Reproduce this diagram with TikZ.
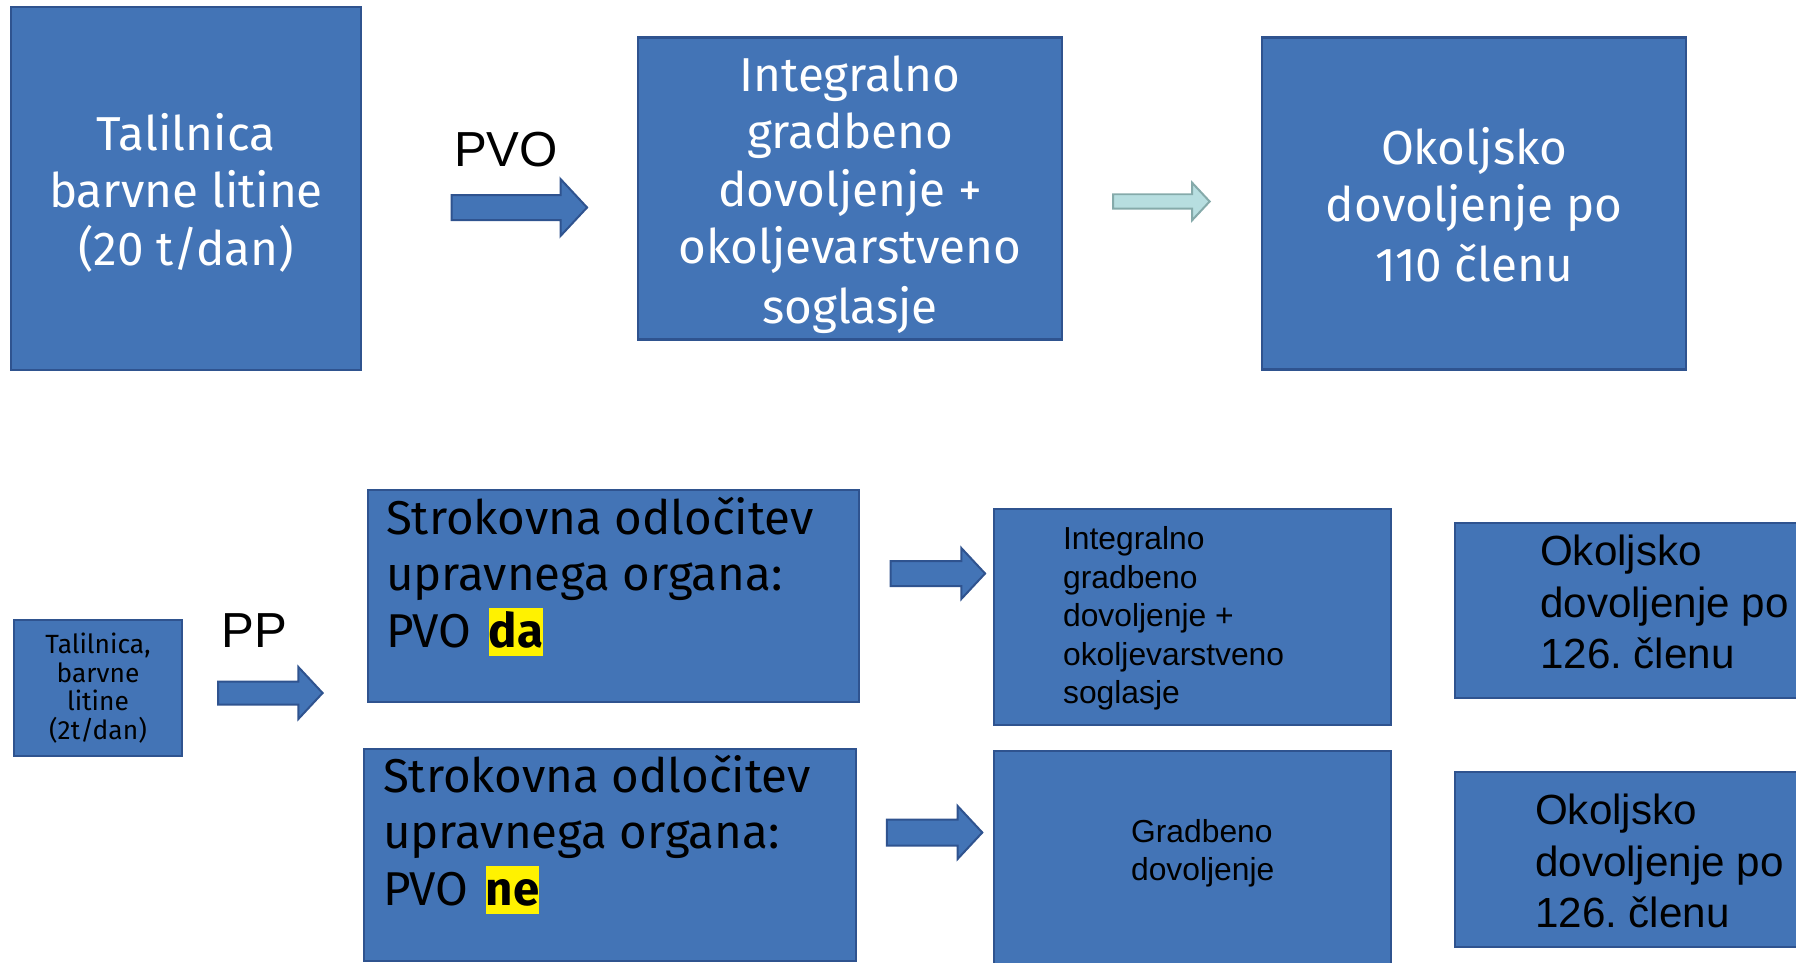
\documentclass[tikz,border=0pt]{standalone}
\usepackage{fontspec}
\setmainfont{Fira Sans}
\newfontfamily\arialfont{Liberation Sans}
\usetikzlibrary{positioning,shapes.arrows}
\frenchspacing

\definecolor{boxfill}{RGB}{67,116,182}
\definecolor{boxline}{RGB}{47,83,143}
\definecolor{paleFill}{RGB}{183,222,224}
\definecolor{paleLine}{RGB}{133,170,170}

\newcommand{\hl}[1]{{\setlength{\fboxsep}{0pt}\colorbox{yellow}{\rule[-0.18em]{0pt}{1.0em}\textbf{#1}}}}
\newcommand{\tstrut}{\rule[-5.35pt]{0pt}{32.7pt}}

\begin{document}
\begin{tikzpicture}[on grid,auto,
    box/.style={rectangle, draw=boxline, fill=boxfill, line width=0.05cm, inner sep=0pt},
    blockarrow/.style={single arrow, draw=boxline, fill=boxfill, line width=0.04cm, inner xsep=0pt, single arrow tip angle=94},
    palearrow/.style={single arrow, draw=paleLine, fill=paleFill, line width=0.04cm, inner xsep=0pt, single arrow tip angle=94},
    bigtext/.style={font=\fontsize{27.1}{32.7}\selectfont, align=center, text=white},
    smalltext/.style={font=\fontsize{15}{16.3}\selectfont, align=center},
    lefttext/.style={font=\fontsize{27}{32.1}\selectfont, align=left, inner sep=0pt},
    arialtext/.style={font=\arialfont\fontsize{18.1}{21.85}\selectfont, align=left, inner sep=0pt},
    arialbig/.style={font=\arialfont\fontsize{24}{29.3}\selectfont, align=left, inner sep=0pt},
    steplabel/.style={font=\arialfont\fontsize{28}{30}\selectfont, inner sep=0pt}
  ]
  \useasboundingbox (0,0) rectangle (35.92,-19.26);
  \clip (0,0) rectangle (35.92,-19.26);

  % top row
  \node[box, minimum width=7cm, minimum height=7.26cm, bigtext] (t1) at (3.72,-3.77) {\tstrut Talilnica\\barvne litine\\(20 t/dan)\tstrut};
  \node[blockarrow, minimum height=2.71cm, inner ysep=0.23cm, single arrow head extend=0.32cm] (a1) [right=6.55cm of t1, yshift=-0.38cm] {};
  \node[steplabel] (pvo) [above=1.15cm of a1, xshift=-0.15cm] {PVO};
  \node[box, minimum width=8.48cm, minimum height=6.04cm, bigtext] (t2) [right=13.28cm of t1] {\tstrut Integralno\\gradbeno\\dovoljenje +\\okoljevarstveno\\soglasje\tstrut};
  \node[palearrow, minimum height=1.93cm, inner ysep=0.125cm, single arrow head extend=0.23cm] (a2) [right=6.16cm of t2, yshift=-0.26cm] {};
  \node[box, minimum width=8.48cm, minimum height=6.64cm, bigtext] (t3) [right=12.48cm of t2, yshift=-0.3cm] {\tstrut Okoljsko\\dovoljenje po\\110 členu\tstrut};

  % bottom rows
  \node[box, minimum width=3.36cm, minimum height=2.72cm, smalltext] (b0) [below=9.99cm of t1, xshift=-1.76cm] {Talilnica,\\barvne\\litine\\(2t/dan)};
  \node[blockarrow, minimum height=2.09cm, inner ysep=0.21cm, single arrow head extend=0.29cm] (a3) [right=3.34cm of b0, yshift=-0.1cm] {};
  \node[steplabel] (pp) [above=1.24cm of a3, xshift=-0.22cm] {PP};

  \node[box, minimum width=9.82cm, minimum height=4.24cm] (bda) [right=10.31cm of b0, yshift=1.84cm] {};
  \node[lefttext, anchor=north west] (bda_txt) at ([xshift=0.38cm, yshift=-0.16cm]bda.north west) {Strokovna odločitev\\upravnega organa:\\PVO\hspace{2.5pt} \hl{da}};
  \node[box, minimum width=9.84cm, minimum height=4.24cm] (bne) [below=5.18cm of bda, xshift=-0.07cm] {};
  \node[lefttext, anchor=north west] (bne_txt) at ([xshift=0.4cm, yshift=-0.14cm]bne.north west) {Strokovna odločitev\\upravnega organa:\\PVO\hspace{2.5pt} \hl{ne}};

  \node[blockarrow, minimum height=1.89cm, inner ysep=0.23cm, single arrow head extend=0.26cm] (a4) [right=6.37cm of bda, yshift=0.45cm] {};
  \node[blockarrow, minimum height=1.91cm, inner ysep=0.24cm, single arrow head extend=0.27cm] (a5) [right=6.37cm of bne, yshift=0.45cm] {};

  \node[box, minimum width=7.94cm, minimum height=4.32cm] (bigd) [right=11.58cm of bda, yshift=-0.42cm] {};
  \node[arialtext, anchor=west] (bigd_txt) at ([xshift=1.4cm, yshift=-0.03cm]bigd.west) {Integralno\\gradbeno\\dovoljenje +\\okoljevarstveno\\soglasje};
  \node[box, minimum width=7.94cm, minimum height=4.78cm] (bgd) [right=11.65cm of bne, yshift=-0.31cm] {};
  \node[arialtext, anchor=west] (bgd_txt) at ([xshift=2.76cm, yshift=0.35cm]bgd.west) {Gradbeno\\dovoljenje};

  \node[box, minimum width=7.7cm, minimum height=3.5cm] (bok1) [right=9.1cm of bigd, yshift=0.13cm] {};
  \node[arialbig, anchor=west] (bok1_txt) at ([xshift=1.72cm, yshift=0.17cm]bok1.west) {Okoljsko\\dovoljenje po\\126. členu};
  \node[box, minimum width=7.7cm, minimum height=3.5cm] (bok2) [below=4.98cm of bok1] {};
  \node[arialbig, anchor=west] (bok2_txt) at ([xshift=1.62cm, yshift=-0.03cm]bok2.west) {Okoljsko\\dovoljenje po\\126. členu};
\end{tikzpicture}
\end{document}
